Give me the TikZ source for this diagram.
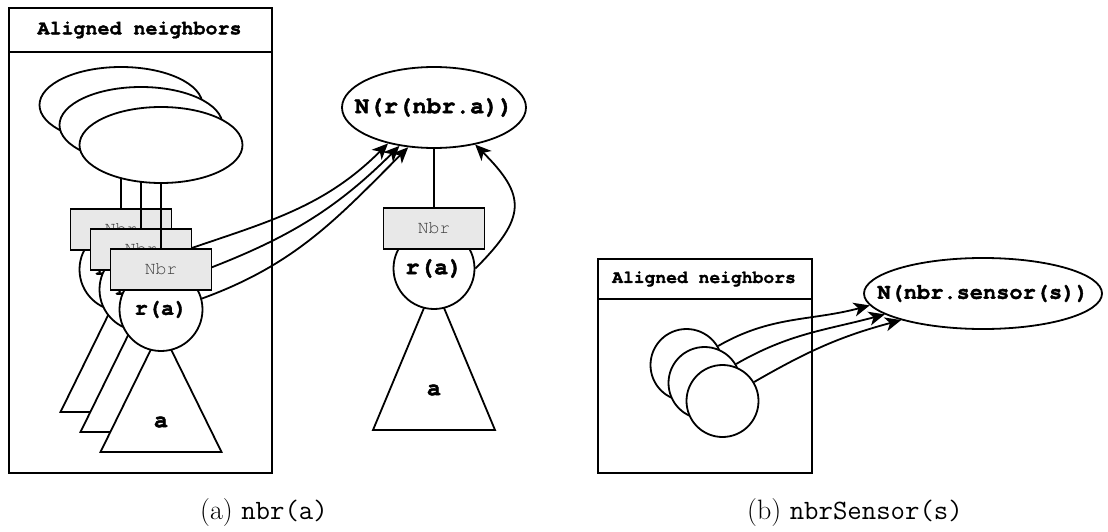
\documentclass[tikz,border=0pt]{standalone}
\usepackage{fontspec}
\IfFontExistsTF{TeX Gyre Cursor}
  {\newfontfamily\cour[BoldFeatures={FakeBold=1.6}]{TeX Gyre Cursor}}
  {\newfontfamily\cour{Liberation Mono}}
\usetikzlibrary{arrows.meta,shapes.geometric}

\begin{document}
\begin{tikzpicture}[x=1pt,y=1pt,line width=1.8pt,
  ovl/.style={ellipse, draw, fill=white, inner sep=0pt},
  disc/.style={circle, draw, fill=white, inner sep=0pt},
  cb/.style={font=\cour\bfseries\fontsize{#1}{#1}\selectfont},
  nbrbox/.style={rectangle, draw, fill=black!9, inner sep=0pt,
    minimum width=101pt, minimum height=41pt, text=black!75,
    font=\cour\fontsize{18}{20}\selectfont},
  tri/.style={draw, fill=white, line join=miter},
  frame/.style={draw, inner sep=0pt, anchor=north west},
  link/.style={-{Stealth[length=16pt,width=14pt,inset=4.5pt]}},
  captext/.style={font=\fontsize{28}{32}\selectfont, anchor=base},
]
\useasboundingbox (0,0) rectangle (1108,-532);

% ---------- (a) nbr(a): the single device on the right ----------
\node[ovl, minimum width=184pt, minimum height=81pt] (N) at (434,-107.5) {};
\node[cb=24] (Nlab) at (N.center) {N(r(nbr.a))};
\filldraw[tri] (373,-430) -- (434,-284) -- (495,-430) -- cycle;
\node[cb=24] (ra) at (434,-390) {a};
\node[disc, minimum size=81pt, cb=24] (rc) at (434,-268.5) {r(a)};
\node[nbrbox] (rb) at (434,-228.5) {Nbr};
\draw (N.south) -- (rb.north);
\draw[link] (rc.east) to[out=45,in=-45,looseness=1.5] (N.318);

% ---------- (a) aligned neighbours frame ----------
\node[frame, minimum width=263pt, minimum height=465pt] (frameA) at (8,-7) {};
\coordinate (hA1) at (8,-52);
\coordinate (hA2) at (271,-52);
\draw (hA1) -- (hA2);
\node[cb=20] (titleA) at (139.5,-30) {Aligned neighbors};

\foreach \i/\ang in {0/218,1/228,2/237} {
  \pgfmathsetmacro\d{20*\i}
  \pgfmathsetmacro\cx{121+\d}
  \node[ovl, minimum width=163pt, minimum height=76pt] (e\i) at (\cx,-105-\d) {};
  \filldraw[tri] (\cx-60.5,-412-\d) -- (\cx,-289-\d) -- (\cx+60.5,-412-\d) -- cycle;
  \node[cb=24] (a\i) at (\cx,-382-\d) {a};
  \node[disc, minimum size=83pt, cb=22] (c\i) at (\cx,-269.5-\d) {r(a)};
  \node[nbrbox] (b\i) at (\cx,-229.5-\d) {Nbr};
  \draw (e\i.south) -- (b\i.north);
  \draw[link] (c\i.15) to[out=20,in=225] (N.\ang);
}

% ---------- (b) nbrSensor(s) ----------
\node[frame, minimum width=214pt, minimum height=214pt] (frameB) at (597,-258) {};
\coordinate (hB1) at (597,-299);
\coordinate (hB2) at (811,-299);
\draw (hB1) -- (hB2);
\node[cb=18] (titleB) at (704,-279) {Aligned neighbors};
\node[ovl, minimum width=238pt, minimum height=71pt] (NS) at (983,-293.5) {};
\node[cb=22] (NSlab) at (NS.center) {N(nbr.sensor(s))};
\foreach \i/\ang in {0/186,1/192,2/198} {
  \pgfmathsetmacro\d{18*\i}
  \node[disc, minimum size=72pt] (s\i) at (686.5+\d,-365-\d) {};
  \draw[link] (s\i.31) to[out=30,in=195] (NS.\ang);
}

% ---------- captions ----------
\node[captext] (capA) at (264,-519) {(a) \texttt{nbr(a)}};
\node[captext] (capB) at (855,-519) {(b) \texttt{nbrSensor(s)}};
\end{tikzpicture}
\end{document}
